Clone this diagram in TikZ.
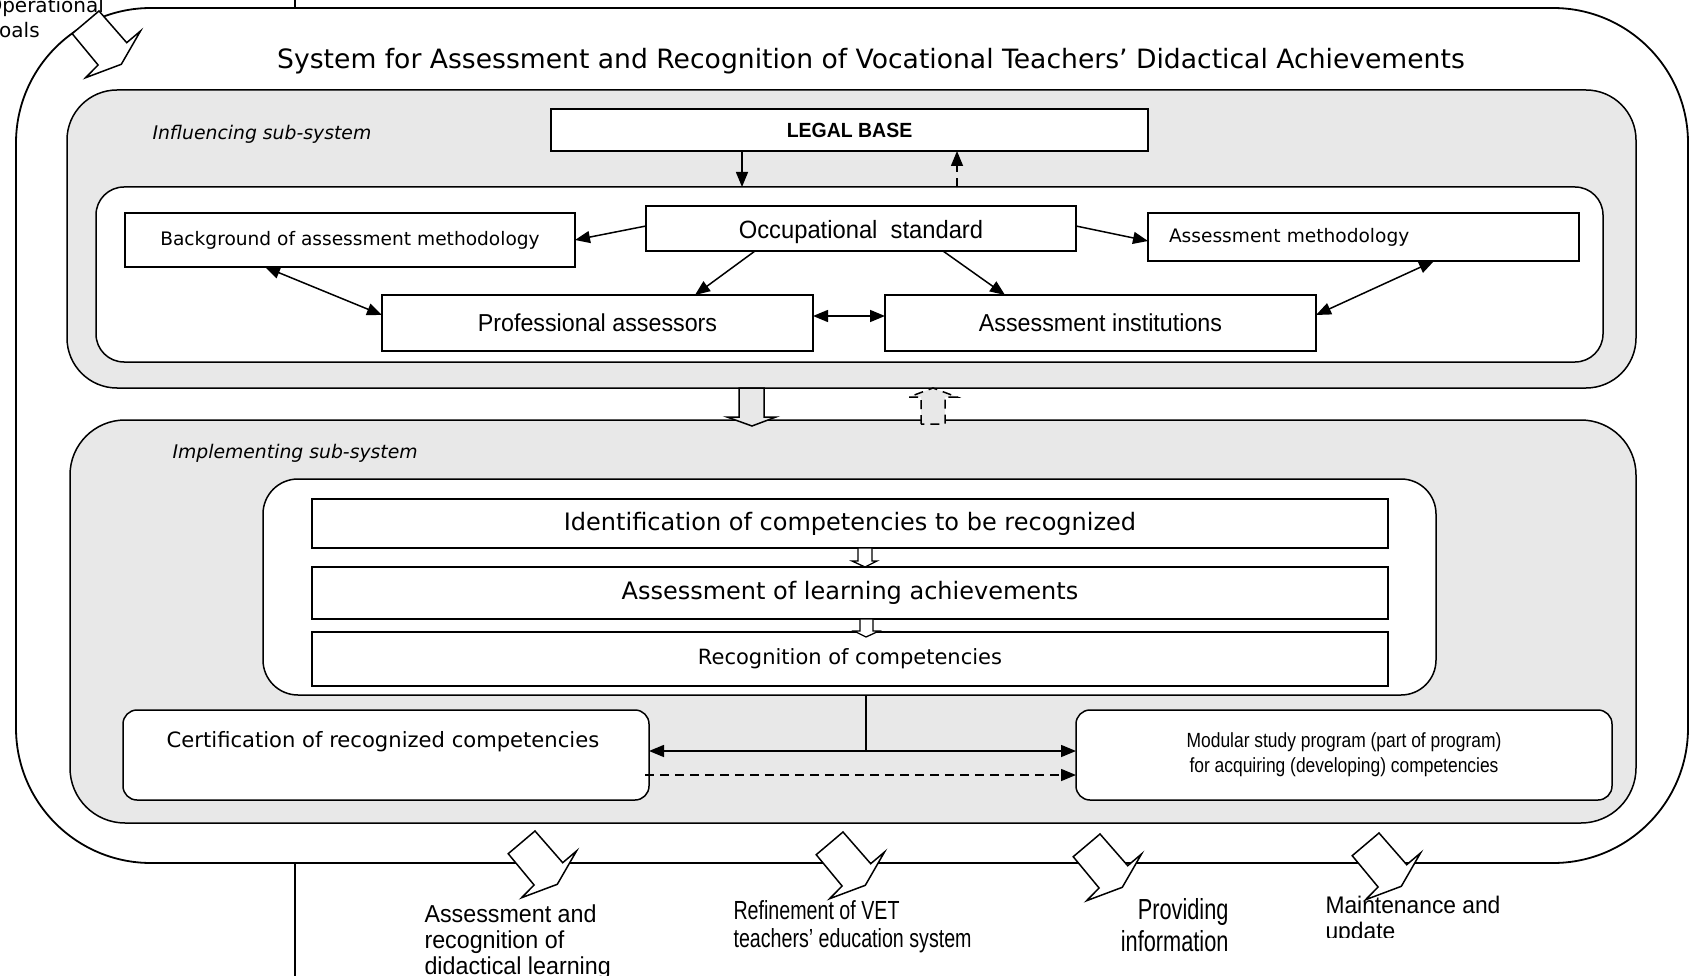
\documentclass[tikz,border=0pt]{standalone}
\usepackage{fontspec}
\setmainfont{DejaVu Sans}[ItalicFont={DejaVu Sans Oblique},BoldFont={DejaVu Sans Bold}]
\newfontfamily\nfont{Liberation Sans}[FakeStretch=0.95]
\newfontfamily\mfont{Liberation Sans}[FakeStretch=0.85]
\newfontfamily\nnfont{Liberation Sans}[FakeStretch=0.75]
\usetikzlibrary{arrows.meta,calc}
\definecolor{sysgrey}{HTML}{E8E8E8}
\newcommand\setfs[2]{\fontsize{#1pt}{#2pt}\selectfont}
\begin{document}
\begin{tikzpicture}[x=1pt,y=-1pt,
  outerframe/.style={draw, line width=1.8pt, rounded corners=135pt, inner sep=0pt, outer sep=0pt},
  subsys/.style={draw, fill=sysgrey, line width=1.5pt, inner sep=0pt, outer sep=0pt},
  wround/.style={draw, fill=white, line width=1.5pt, inner sep=0pt, outer sep=0pt},
  rbox/.style={draw, fill=white, line width=1.5pt, inner sep=0pt, outer sep=0pt},
  conn/.style={line width=1.5pt, -{Triangle[length=15pt,width=12pt]}},
  dconn/.style={line width=1.5pt, {Triangle[length=15pt,width=12pt]}-{Triangle[length=15pt,width=12pt]}},
  dsh/.style={dash pattern=on 9pt off 6pt},
  barrow/.pic={\draw[fill=white, line width=1.5pt, line join=miter]
     (0,0) -- (27.7,31.7) -- (41.5,20) -- (22.3,53.3) -- (-13.4,66.7) -- (-0.9,54) -- (-26.8,22.7) -- cycle;}
]
\useasboundingbox (0,0) rectangle (1703,976);
\clip (0,0) rectangle (1703,976);

% outer frame
\node[outerframe, minimum width=1672pt, minimum height=855pt] (frame) at (852,435.5) {};
\coordinate (vtop) at (295,0);
\coordinate (vbot) at (295,976);
\draw[line width=1.5pt] (vtop) -- (vtop |- frame.north);
\draw[line width=1.5pt] (vbot |- frame.south) -- (vbot);

\node[anchor=west, align=left, font=\setfs{20}{25}] (goals) at (-17,19) {Operational\\goals};
\pic at (99,11) {barrow};

\node[font=\setfs{26.6}{30}] (title) at (871,61) {System for Assessment and Recognition of Vocational Teachers’ Didactical Achievements};

% influencing sub-system
\node[subsys, rounded corners=50pt, minimum width=1569pt, minimum height=298pt] (infl) at (851.5,239) {};
\node[anchor=west, font=\setfs{18.8}{20}\itshape] (infllab) at (149,134) {Influencing sub-system};
\node[rbox, minimum width=597pt, minimum height=42pt, font=\nfont\bfseries\setfs{20.5}{21}] (legal) at (849.5,130) {LEGAL BASE};
\node[wround, rounded corners=28pt, minimum width=1507pt, minimum height=175pt] (iw1) at (849.5,274.5) {};

\node[rbox, minimum width=430pt, minimum height=45pt, text height=26pt, text depth=5pt, font=\nfont\setfs{25}{25}] (occ) at (861,228.5) {Occupational~~standard};
\node[rbox, minimum width=450pt, minimum height=54pt, font=\setfs{18.6}{20}] (bg) at (350,240) {Background of assessment methodology};
\node[rbox, minimum width=431pt, minimum height=48pt, text width=389pt, align=left, font=\setfs{18.6}{20}] (am) at (1363.5,237) {Assessment methodology};
\node[rbox, minimum width=431pt, minimum height=56pt, font=\nfont\setfs{24.5}{25}] (prof) at (597.5,323) {Professional assessors};
\node[rbox, minimum width=431pt, minimum height=56pt, font=\nfont\setfs{24.5}{25}] (inst) at (1100.5,323) {Assessment institutions};

\draw[conn] ([xshift=-107.5pt]legal.south) -- ([xshift=-107.5pt]iw1.north);
\draw[conn, dsh] ([xshift=107.5pt]iw1.north) -- ([xshift=107.5pt]legal.south);
\draw[conn] ([yshift=2.5pt]occ.west) -- (bg.east);
\draw[conn] ([yshift=2.5pt]occ.east) -- ([yshift=-4pt]am.west);
\draw[conn] ([xshift=-106pt]occ.south) -- ([xshift=97.5pt]prof.north);
\draw[conn] ([xshift=82pt]occ.south) -- ([xshift=-95.5pt]inst.north);
\draw[dconn] ([yshift=7pt]prof.east) -- ([yshift=7pt]inst.west);
\draw[dconn] ([xshift=-85pt]bg.south) -- ([yshift=8pt]prof.west);
\draw[dconn] ([yshift=8pt]inst.east) -- ([xshift=70.5pt]am.south);

% implementing sub-system
\node[subsys, rounded corners=55pt, minimum width=1566pt, minimum height=403pt] (impl) at (853,621.5) {};
\node[anchor=west, font=\setfs{18.8}{20}\itshape] (impllab) at (169,453) {Implementing sub-system};

% block arrows between sub-systems
\draw[fill=sysgrey, line width=1.5pt, line join=miter] (739,388) -- (739,417) -- (727,417) -- (752,426) -- (776,417) -- (764,417) -- (764,388) -- cycle;
\draw[fill=sysgrey, line width=1.5pt, dsh, line join=miter] (921,424) -- (921,397) -- (909,397) -- (933,388) -- (957,397) -- (945,397) -- (945,424) -- cycle;

\node[wround, rounded corners=35pt, minimum width=1173pt, minimum height=216pt] (iw2) at (849.5,587) {};
\node[rbox, minimum width=1076pt, minimum height=49pt, font=\setfs{24}{26}] (ident) at (850,523.5) {Identification of competencies to be recognized};
\node[rbox, minimum width=1076pt, minimum height=52pt, font=\setfs{24}{26}] (alearn) at (850,593) {Assessment of learning achievements};
\node[rbox, minimum width=1076pt, minimum height=54pt, font=\setfs{21}{23}] (recog) at (850,659) {Recognition of competencies};

\draw[fill=white, line width=1.3pt, line join=miter] (858,548) -- (858,561) -- (852,561) -- (865,567) -- (877,561) -- (872,561) -- (872,548) -- cycle;
\draw[fill=white, line width=1.3pt, line join=miter] (860,619) -- (860,631) -- (854,631) -- (866,637) -- (879,631) -- (873,631) -- (873,619) -- cycle;

\node[rbox, rounded corners=14pt, minimum width=526pt, minimum height=90pt] (cert) at (386,755) {};
\node[font=\setfs{21.1}{23}] (certtext) at (383,742) {Certification of recognized competencies};
\node[rbox, rounded corners=14pt, minimum width=536pt, minimum height=90pt, align=center, font=\mfont\setfs{20.5}{25}] (mod) at (1344,755) {Modular study program (part of program)\\for acquiring (developing) competencies};

\coordinate (jn) at (866,751);
\coordinate (dstart) at (645,775);
\draw[line width=1.5pt] (iw2.south -| jn) -- (jn);
\draw[conn] (jn) -- (cert.east |- jn);
\draw[conn] (jn) -- (mod.west |- jn);
\draw[conn, dsh] (dstart) -- (mod.west |- dstart);

% output arrows
\pic at (535,831) {barrow};
\pic at (843,832) {barrow};
\pic at (1100,834) {barrow};
\pic at (1379,833) {barrow};

\node[anchor=north west, align=left, font=\nfont\setfs{24.5}{26}] (out1) at (421,901) {Assessment and\\recognition of\\didactical learning};
\node[anchor=north west, align=left, font=\nnfont\setfs{26.2}{28}] (out2) at (730,897) {Refinement of VET\\teachers’ education system};
\node[anchor=north east, align=right, font=\nnfont\setfs{29}{32}] (out3) at (1232,895) {Providing\\information};
\begin{scope}
\clip (1300,880) rectangle (1520,937);
\node[anchor=north west, align=left, font=\nfont\setfs{24}{26}] (out4) at (1322,893) {Maintenance and\\update};
\end{scope}
\end{tikzpicture}
\end{document}
